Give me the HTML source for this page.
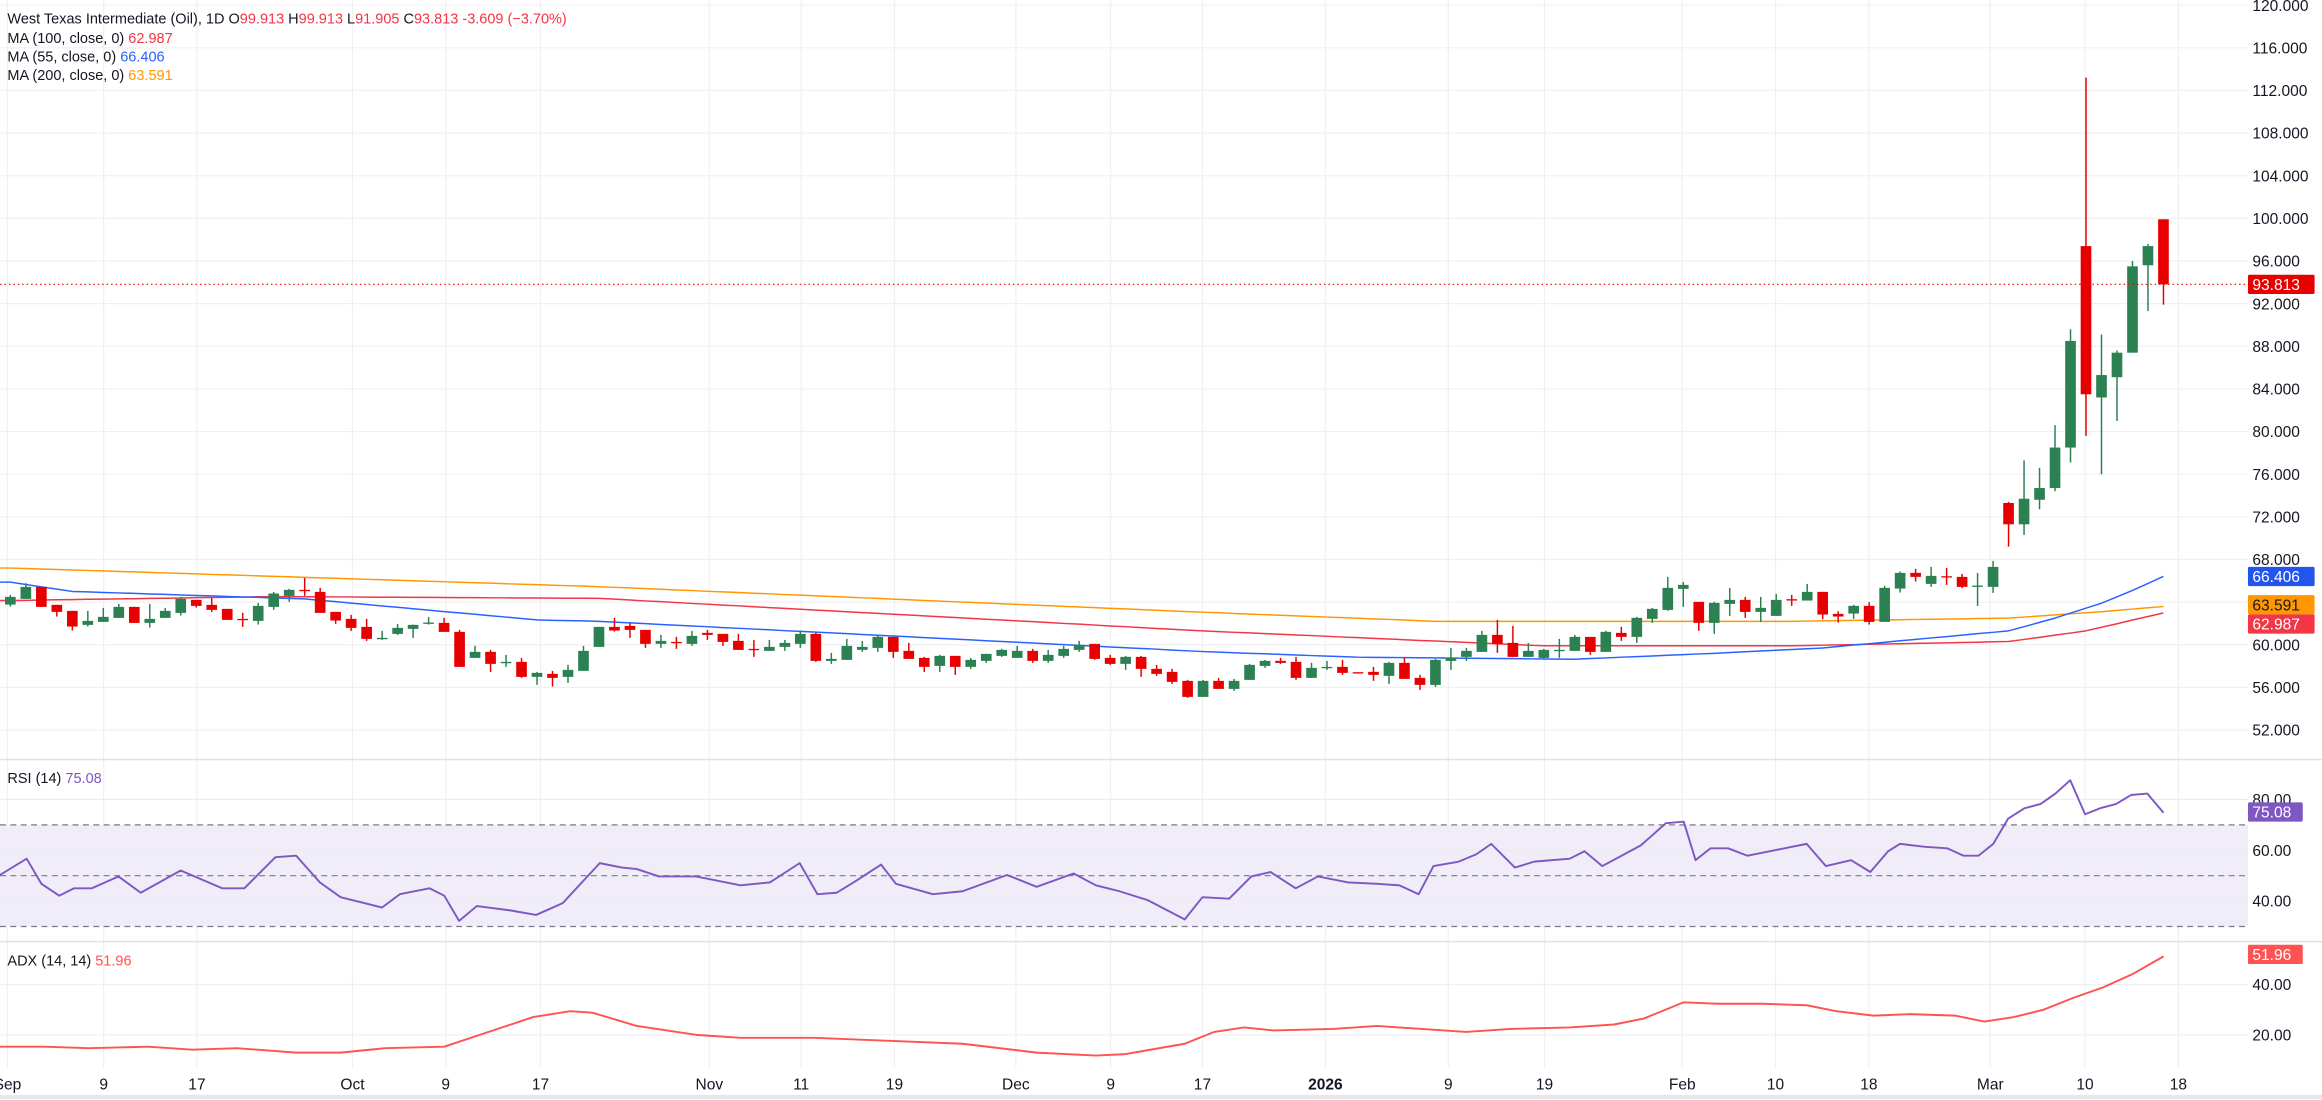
<!DOCTYPE html>
<html><head><meta charset="utf-8">
<style>
html,body{margin:0;padding:0;background:#fff;}
svg{display:block;}
text{font-family:"Liberation Sans",sans-serif;}
</style></head>
<body>
<svg id="c" xmlns="http://www.w3.org/2000/svg" width="2322" height="1100" viewBox="0 0 1568 743" preserveAspectRatio="none"></svg>
<script>
const S=document.getElementById('c');const NS='http://www.w3.org/2000/svg';
function el(t,a,txt){const e=document.createElementNS(NS,t);for(const k in a)e.setAttribute(k,a[k]);if(txt!==undefined)e.textContent=txt;S.appendChild(e);return e;}
const PR=1518;
const py=p=>147.5+(100-p)*7.2;
const ry=v=>540+(80-v)*1.716;
const ay=v=>665+(40-v)*1.7;
const X=i=>7+i*10.46;
el('rect',{x:0,y:0,width:1568,height:743,fill:'#fff'});
const xl=[[5,'Sep'],[70,'9'],[133,'17'],[238,'Oct'],[301,'9'],[365,'17'],[479,'Nov'],[541,'11'],[604,'19'],[686,'Dec'],[750,'9'],[812,'17'],[895,'2026'],[978,'9'],[1043,'19'],[1136,'Feb'],[1199,'10'],[1262,'18'],[1344,'Mar'],[1408,'10'],[1471,'18']];
xl.forEach(([x])=>el('line',{x1:x,x2:x,y1:0,y2:721,stroke:'#f0f0f3','stroke-width':0.8}));
for(let p=52;p<=120;p+=4){el('line',{x1:0,x2:PR,y1:py(p),y2:py(p),stroke:'#f0f0f3','stroke-width':0.8});}
[513,636].forEach(y=>el('line',{x1:0,x2:1568,y1:y,y2:y,stroke:'#e0e0e6','stroke-width':1}));
el('line',{x1:0,x2:1568,y1:741,y2:741,stroke:'#e6e6ec','stroke-width':3});
el('rect',{x:0,y:ry(70),width:PR,height:ry(30)-ry(70),fill:'#f0ecf8'});
[40,60,80].forEach(v=>el('line',{x1:0,x2:PR,y1:ry(v),y2:ry(v),stroke:'#ebebf0','stroke-width':0.8}));
[70,50,30].forEach(v=>el('line',{x1:0,x2:PR,y1:ry(v),y2:ry(v),stroke:'#787b86','stroke-width':0.8,'stroke-dasharray':'4 3'}));
[20,40].forEach(v=>el('line',{x1:0,x2:PR,y1:ay(v),y2:ay(v),stroke:'#f0f0f3','stroke-width':0.8}));
const zp=z=>68.90-0.03127*z;
const Z=[[164,141,135,170],[147,111,100,147],[111,171,111,171],[165,186,165,200],[183,230,183,242],[225,213,183,230],[216,201,174,216],[204,171,162,204],[171,219,171,219],[219,207,162,233],[204,183,174,204],[189,147,141,197],[150,168,150,173],[165,180,145,186],[177,210,177,210],[207,209,189,231],[213,168,159,224],[171,131,126,180],[138,120,117,156],[120,122,84,138],[126,189,114,189],[186,212,186,222],[207,234,195,243],[231,267,207,273],[266,264,243,270],[252,234,222,255],[237,225,224,264],[220,218,201,224],[219,246,204,246],[246,351,240,351],[324,306,288,324],[306,342,300,366],[338,336,315,351],[336,381,324,384],[381,369,366,405],[372,384,363,410],[381,360,345,399],[363,303,288,363],
[291,231,231,291],[231,242,204,245],[228,240,219,264],[240,282,240,294],[282,273,255,294],[276,278,261,297],[282,258,243,288],[249,255,240,270],[252,276,252,288],[273,300,252,300],[297,299,270,321],[303,291,270,303],[291,279,270,303],[282,252,243,294],[252,333,249,336],[333,327,309,342],[330,288,267,330],[300,291,273,306],[294,261,255,306],[261,306,261,324],[303,327,279,327],[324,351,321,366],[348,318,315,366],[318,351,318,375],[351,330,324,357],[333,312,312,339],[318,300,297,321],[324,303,288,324],[303,333,297,339],[333,315,300,339],[318,297,288,324],[300,285,273,306],[282,327,282,330],[324,342,315,345],[342,321,318,360],[321,357,318,381],[357,372,345,378],[366,396,357,402],[393,441,390,444],
[441,393,390,441],[393,417,384,417],[417,393,387,423],[390,345,342,390],[348,333,330,354],[333,339,324,342],[336,384,321,390],[384,354,339,384],[353,351,333,360],[351,369,330,375],[367,368,367,368],[366,375,351,393],[378,339,336,402],[339,387,324,387],[384,405,375,420],[405,330,327,411],[333,324,294,360],[321,303,294,333],[306,255,243,306],[255,282,210,309],[279,321,228,321],[321,303,279,321],[324,300,297,327],[302,300,267,324],[303,261,255,303],[261,306,261,315],[306,246,243,306],[249,261,231,273],[261,204,201,279],[207,177,174,219],[180,114,81,183],[117,105,96,171],[156,219,156,243],[219,159,156,252],[162,150,114,198],[150,186,141,204],[186,174,141,216],[198,150,132,198],[148,150,135,168],
[152,126,102,152],[126,194,126,208],[192,200,184,218],[191,168,165,207],[168,216,157,224],[216,114,108,216],[116,69,65,128],[69,81,57,95],[102,78,51,111],[79,81,54,105],[81,111,72,115],[109,107,69,168],[111,51,33,129]];
const C=Z.map(a=>a.map(zp));
C.push([73.3,71.3,73.4,69.2],[71.3,73.7,77.3,70.3],[73.6,74.7,76.6,72.7],[74.7,78.5,80.6,74.4],[78.5,88.5,89.6,77.1],[97.4,83.5,113.2,79.6],[83.2,85.3,89.1,76.0],[85.1,87.4,87.6,81.0],[87.4,95.5,96.0,87.4],[95.6,97.4,97.6,91.3],[99.913,93.813,99.913,91.905]);
function interp(pts){const out=[];for(let i=0;i<C.length;i++){let k=0;while(k<pts.length-2&&pts[k+1][0]<i)k++;const[a,b]=[pts[k],pts[k+1]];const t=Math.min(1,Math.max(0,(i-a[0])/(b[0]-a[0])));out.push([X(i),py(a[1]+(b[1]-a[1])*t)]);}return out;}
function poly(pts,col,w){el('polyline',{points:pts.map(p=>p[0].toFixed(1)+','+p[1].toFixed(1)).join(' '),fill:'none',stroke:col,'stroke-width':w,'stroke-linejoin':'round'});}
const ma200=interp([[0,67.2],[38,65.45],[77,63.05],[92,62.2],[115,62.2],[129,62.5],[135,63.1],[139,63.59]]);
const ma100=interp([[0,64.15],[17,64.52],[38,64.35],[77,61.3],[99,59.9],[115,59.9],[129,60.3],[134,61.3],[139,62.99]]);
const ma55=interp([[0,65.87],[4,65.0],[19,64.3],[34,62.33],[38,62.2],[77,59.36],[87,58.83],[101,58.64],[110,59.2],[117,59.7],[125,60.77],[129,61.3],[132,62.5],[135,63.9],[137,65.1],[139,66.41]]);
ma200.unshift([0,ma200[0][1]]);ma100.unshift([0,ma100[0][1]]);ma55.unshift([0,ma55[0][1]]);
poly(ma200,'#ff9800',1);poly(ma100,'#f23645',1);poly(ma55,'#2962ff',1);
const G='#2b8152',R='#e60000';
C.forEach((c,i)=>{const[o,cl,h,l]=c;const col=cl>=o?G:R;const x=X(i);
el('line',{x1:x,x2:x,y1:py(Math.max(h,o,cl)),y2:py(Math.min(l,o,cl)),stroke:col,'stroke-width':1});
const t=py(Math.max(o,cl)),b=py(Math.min(o,cl));el('rect',{x:x-3.6,y:t,width:7.2,height:Math.max(0.9,b-t),fill:col});});
el('line',{x1:0,x2:PR,y1:py(93.813),y2:py(93.813),stroke:'#e60000','stroke-width':0.8,'stroke-dasharray':'1 2'});
const rsi=[[0,591],[18,580],[28,597],[40,605],[50,600],[62,600],[80,592],[95,603],[122,588],[150,600],[165,600],[186,579],[200,578],[216,596],[230,606],[258,613],[270,604],[290,600],[300,605],[310,622],[322,612],[345,615],[362,618],[380,610],[405,583],[420,586],[430,587],[445,592],[470,592],[500,598],[520,596],[540,583],[552,604],[565,603],[578,595],[595,584],[605,597],[630,604],[650,602],[680,591],[700,599],[725,590],[740,598],[756,602],[775,608],[800,621],[812,606],[830,607],[845,592],[858,589],[875,600],[890,592],[910,596],[930,597],[945,598],[958,604],[968,585],[985,582],[997,577],[1007,570],[1023,586],[1036,582],[1060,580],[1070,575],[1082,585],[1095,578],[1108,571],[1125,556],[1137,555],[1145,581],[1155,573],[1167,573],[1180,578],[1195,575],[1210,572],[1220,570],[1233,585],[1250,581],[1263,589],[1275,575],[1283,570],[1300,572],[1315,573],[1326,578],[1336,578],[1346,570],[1356,553],[1367,546],[1378,543],[1388,536],[1398,527],[1408,550],[1418,546],[1429,543],[1439,537],[1450,536],[1461,549]];
poly(rsi,'#7e57c2',1.3);
const adx=[[0,707],[30,707],[60,708],[100,707],[130,709],[160,708],[200,711],[230,711],[260,708],[300,707],[330,697],[360,687],[385,683],[400,684],[430,693],[470,699],[500,701],[550,701],[600,703],[650,705],[700,711],[740,713],[760,712],[800,705],[820,697],[840,694],[860,696],[900,695],[930,693],[960,695],[990,697],[1020,695],[1060,694],[1090,692],[1110,688],[1137,677],[1160,678],[1190,678],[1220,679],[1240,683],[1265,686],[1290,685],[1320,686],[1340,690],[1360,687],[1380,682],[1400,674],[1420,667],[1440,658],[1461,646]];
poly(adx,'#ff5252',1.3);
for(let p=52;p<=120;p+=4){if(p===64)continue;el('text',{x:1521,y:py(p)+3.8,'font-size':10.5,fill:'#131722'},p.toFixed(3));}
[[60,'60.00'],[40,'40.00'],[80,'80.00']].forEach(([v,t])=>el('text',{x:1521,y:ry(v)+3.8,'font-size':10.5,fill:'#131722'},t));
[[20,'20.00'],[40,'40.00']].forEach(([v,t])=>el('text',{x:1521,y:ay(v)+3.8,'font-size':10.5,fill:'#131722'},t));
function badge(y,bg,fg,t,w){el('rect',{x:1518,y:y-6.5,width:w||45,height:13,fill:bg,rx:1});el('text',{x:1521,y:y+3.8,'font-size':10.5,fill:fg},t);}
badge(py(93.813),'#e60000','#fff','93.813');
badge(389.4,'#2255ee','#fff','66.406');
badge(408.5,'#ff9800','#131722','63.591');
badge(421.5,'#f23645','#fff','62.987');
badge(ry(75.08),'#7e57c2','#fff','75.08',37);
badge(ay(51.96),'#ff5252','#fff','51.96',37);
xl.forEach(([x,t])=>el('text',{x:x,y:736,'font-size':10.5,fill:'#131722','text-anchor':'middle','font-weight':t==='2026'?'bold':'normal'},t));
const FS=9.8;
const L=el('text',{x:5,y:16,'font-size':FS,fill:'#131722'});
function sp(t,c){const s=document.createElementNS(NS,'tspan');if(c)s.setAttribute('fill',c);s.textContent=t;L.appendChild(s);}
sp('West Texas Intermediate (Oil), 1D  O');sp('99.913','#f23645');sp('  H');sp('99.913','#f23645');sp('  L');sp('91.905','#f23645');sp('  C');sp('93.813','#f23645');sp('  -3.609 (−3.70%)','#f23645');
function leg(y,a,b,c){const t=el('text',{x:5,y:y,'font-size':FS,fill:'#131722'});const s1=document.createElementNS(NS,'tspan');s1.textContent=a+'  ';t.appendChild(s1);const s2=document.createElementNS(NS,'tspan');s2.setAttribute('fill',c);s2.textContent=b;t.appendChild(s2);}
leg(29,'MA (100, close, 0)','62.987','#f23645');
leg(41.5,'MA (55, close, 0)','66.406','#2962ff');
leg(54,'MA (200, close, 0)','63.591','#ff9800');
leg(529,'RSI (14)','75.08','#7e57c2');
leg(652,'ADX (14, 14)','51.96','#ff5252');
</script>
</body></html>
